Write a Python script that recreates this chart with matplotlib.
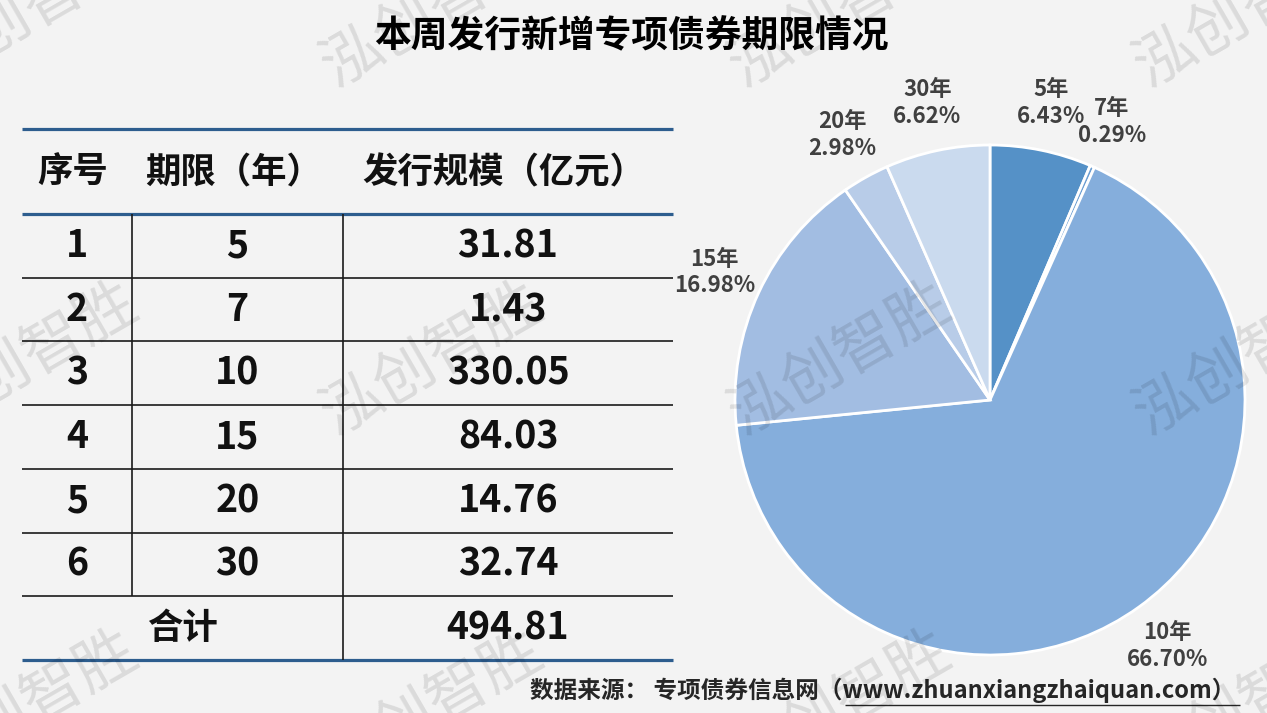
import matplotlib
matplotlib.use("Agg")
import matplotlib.pyplot as plt

plt.rcParams['font.family'] = ['Noto Sans CJK SC', 'DejaVu Sans']

# ---- data ----
title = "本周发行新增专项债券期限情况"
headers = ["序号", "期限（年）", "发行规模（亿元）"]
seq_nums = [1, 2, 3, 4, 5, 6]
terms = [5, 7, 10, 15, 20, 30]
amounts = [31.81, 1.43, 330.05, 84.03, 14.76, 32.74]
total_label = "合计"
total_amount = 494.81
source = "数据来源： 专项债券信息网（www.zhuanxiangzhaiquan.com）"
watermark = "泓创智胜"

pie_colors = ["#5591c7", "#6a9dd2", "#85aedc", "#a2bde2", "#b8cce8", "#cadaee"]

W, H = 1267, 713
fig = plt.figure(figsize=(W / 100, H / 100), dpi=100)
bg = "#f3f3f3"
fig.patch.set_facecolor(bg)

# ---- table (pixel-coordinate overlay axes) ----
ax = fig.add_axes([0, 0, 1, 1])
ax.set_xlim(0, W)
ax.set_ylim(H, 0)
ax.axis("off")

x_left, x_right = 22, 673
col_edges = [x_left, 132, 343, x_right]
y_top, y_head = 129, 214
row_h = (660 - 214) / 7.0
row_edges = [y_head + i * row_h for i in range(8)]
blue = "#2d5d8e"

ax.hlines([y_top, y_head, row_edges[-1]], x_left, x_right, colors=blue, lw=2.3)
ax.hlines(row_edges[1:-1], x_left, x_right, colors="#1a1a1a", lw=1.2)
ax.vlines(col_edges[1], row_edges[0], row_edges[6], colors="#1a1a1a", lw=1.2)
ax.vlines(col_edges[2], row_edges[0], row_edges[7], colors="#1a1a1a", lw=1.2)

col_centers = [(col_edges[i] + col_edges[i + 1]) / 2 for i in range(3)]
head_y = (y_top + y_head) / 2 + 1
for cx, h in zip(col_centers, headers):
    ax.text(cx - 4, head_y, h, ha="center", va="center", fontsize=25.5,
            fontweight="bold", color="#111111")

for i, (s, t, a) in enumerate(zip(seq_nums, terms, amounts)):
    cy = (row_edges[i] + row_edges[i + 1]) / 2
    for cx, v in zip(col_centers, [str(s), str(t), f"{a:.2f}"]):
        ax.text(cx, cy, v, ha="center", va="center", fontsize=27,
                fontweight="bold", color="#111111")

cy = (row_edges[6] + row_edges[7]) / 2
ax.text((col_edges[0] + col_edges[2]) / 2, cy, total_label, ha="center", va="center",
        fontsize=25.5, fontweight="bold", color="#111111")
ax.text(col_centers[2], cy, f"{total_amount:.2f}", ha="center", va="center",
        fontsize=27, fontweight="bold", color="#111111")

# title
ax.text(631, 37, title, ha="center", va="center", fontsize=26.5,
        fontweight="bold", color="#000000")

# source
ax.text(530, 690, source, ha="left", va="center", fontsize=17,
        fontweight="bold", color="#262626")
ax.hlines(705, 845, 1240, colors="#262626", lw=1.0)

# ---- pie ----
cxp, cyp, r = 990, 400, 255
pax = fig.add_axes([(cxp - r) / W, (H - cyp - r) / H, 2 * r / W, 2 * r / H])
pax.set_facecolor("none")
tot = sum(amounts)
labels = [f"{t}年\n{a / tot * 100:.2f}%" for t, a in zip(terms, amounts)]
wedges, texts = pax.pie(amounts, colors=pie_colors, startangle=90, counterclock=False,
                        labels=labels, labeldistance=1.19,
                        wedgeprops=dict(edgecolor="white", linewidth=2),
                        textprops=dict(fontsize=16, fontweight="bold", color="#404040",
                                       linespacing=1.2))
for tx in texts:
    tx.set_ha("center")
    tx.set_va("center")
    tx.set_multialignment("center")
pax.set_xlim(-1, 1)
pax.set_ylim(-1, 1)
pax.set_aspect("equal")

# ---- watermarks ----
for wy in [12, 360, 708]:
    for wx in [27, 432, 840, 1245]:
        fig.text(wx / W, 1 - wy / H, watermark, ha="center", va="center",
                 rotation=30, fontsize=44, fontweight="light", color="#000000",
                 alpha=0.1, zorder=10)

fig.savefig("out.png", dpi=100, facecolor=bg)
